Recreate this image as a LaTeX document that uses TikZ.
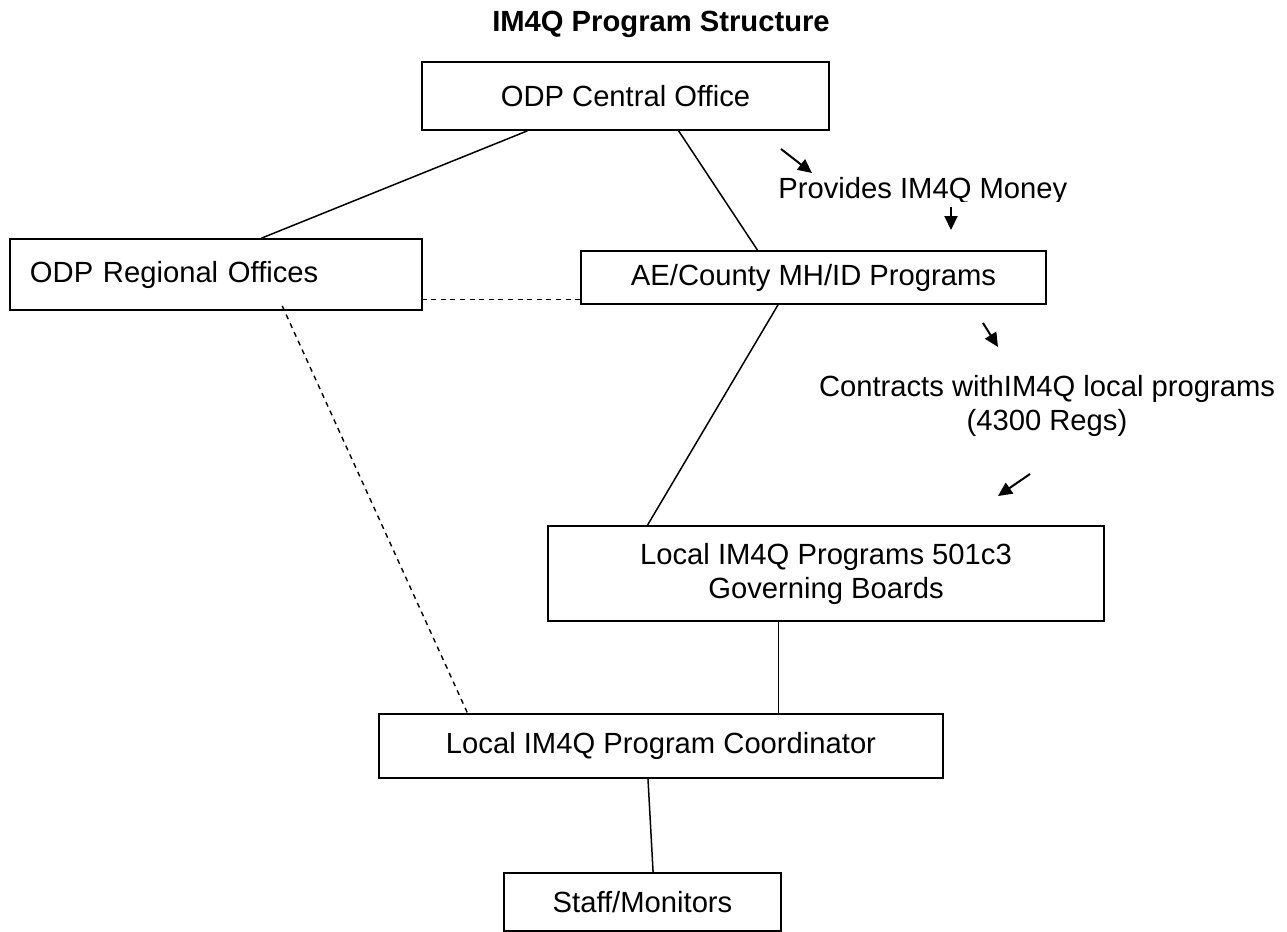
\documentclass[tikz,border=0pt]{standalone}
\usepackage{fontspec}
\setmainfont{Liberation Sans}
\usetikzlibrary{calc,arrows.meta}
\begin{document}
\begin{tikzpicture}[x=0.5pt,y=-0.5pt,
  box/.style={draw,line width=0.85pt,inner sep=0pt,font=\fontsize{14.6}{17}\selectfont,align=center},
  lnk/.style={line width=0.75pt},
  dsh/.style={line width=0.7pt,dash pattern=on 2.5pt off 2.3pt},
  arr/.style={line width=1pt,-{Triangle[length=7pt,width=6.5pt]}},
  lbl/.style={font=\fontsize{14.6}{17}\selectfont,align=center,inner sep=0pt}]
\useasboundingbox (0,0) rectangle (1287,932);

\node[lbl,font=\fontsize{14.6}{17}\selectfont\bfseries] (title) at (661,24) {IM4Q Program Structure};

\node[box,minimum width=203.5pt,minimum height=34pt] (central) at (625.5,96) {ODP Central Office};
\node[box,minimum width=206pt,minimum height=35.5pt,text width=186pt,align=left,inner xsep=10pt] (reg) at (216,274.5) {ODP Regional Offices\\[6pt]};
\node[box,minimum width=232.5pt,minimum height=26.5pt] (ae) at (813.5,277.5) {AE/County MH/ID Programs};
\node[box,minimum width=278pt,minimum height=47.5pt] (local) at (826,573.5) {Local IM4Q Programs 501c3\\Governing Boards};
\node[box,minimum width=282pt,minimum height=32pt] (coord) at (661,746) {Local IM4Q Program Coordinator};
\node[box,minimum width=138.5pt,minimum height=29pt] (staff) at (642.5,902) {Staff/Monitors};

\begin{scope}
\clip (770,170) rectangle (1090,201);
\node[lbl,anchor=west] (money) at (778,191) {Provides IM4Q Money};
\end{scope}
\node[lbl] (contracts) at (1047,406) {Contracts withIM4Q local programs\\(4300 Regs)};

% solid connectors
\draw[lnk] ($(central.south west)!0.26!(central.south east)$) -- ($(reg.north west)!0.61!(reg.north east)$);
\draw[lnk] ($(central.south west)!0.63!(central.south east)$) -- ($(ae.north west)!0.38!(ae.north east)$);
\draw[lnk] ($(ae.south west)!0.424!(ae.south east)$) -- ($(local.north west)!0.18!(local.north east)$);
\coordinate (lc) at ($(local.south west)!0.415!(local.south east)$);
\draw[lnk] (lc) -- (lc |- coord.north);
\draw[lnk] ($(coord.south west)!0.477!(coord.south east)$) -- ($(staff.north west)!0.538!(staff.north east)$);

% dashed connectors
\coordinate (aeL) at ($(ae.north west)!0.9!(ae.south west)$);
\draw[dsh] (aeL) -- (aeL -| reg.east);
\coordinate (regIn) at ($(reg.south west)!0.66!(reg.south east)+(0,-5)$);
\draw[dsh] (regIn) -- ($(coord.north west)!0.158!(coord.north east)$);

% arrows
\coordinate (a1s) at (781,149); \coordinate (a1e) at (812,173);
\coordinate (a2s) at (951,207); \coordinate (a2e) at (951,230);
\coordinate (a3s) at (983,323); \coordinate (a3e) at (998,347);
\coordinate (a4s) at (1030,474); \coordinate (a4e) at (998,496);
\draw[arr] (a1s) -- (a1e);
\draw[arr] (a2s) -- (a2e);
\draw[arr] (a3s) -- (a3e);
\draw[arr] (a4s) -- (a4e);
\end{tikzpicture}
\end{document}
